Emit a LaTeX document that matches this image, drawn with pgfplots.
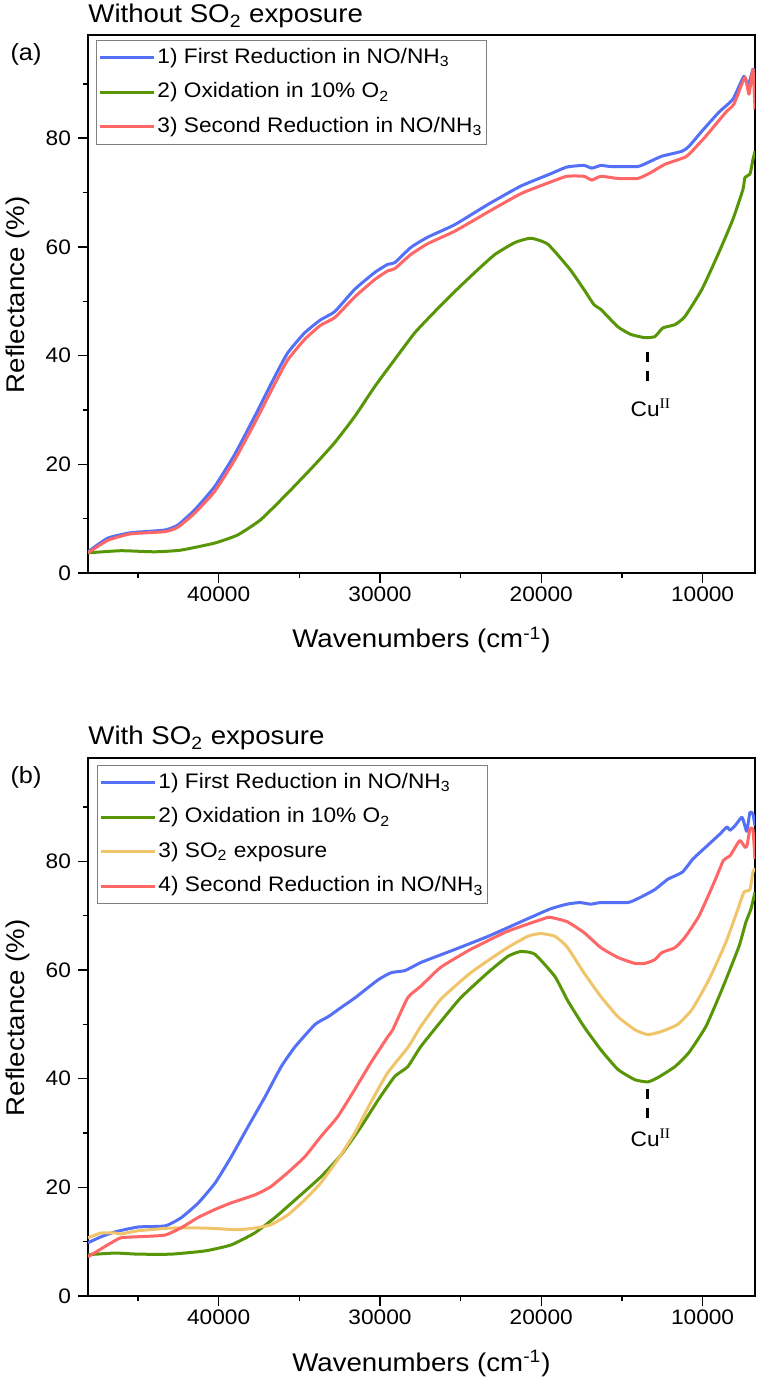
\documentclass[border=0pt]{standalone}
\usepackage{fontspec}
\setmainfont{Liberation Sans}[FakeStretch=1.08]
\newfontfamily\seriffont{Liberation Serif}[FakeStretch=1.08]
\usepackage{pgfplots}
\pgfplotsset{compat=1.18}
\definecolor{cblue}{RGB}{84,112,246}
\definecolor{cgreen}{RGB}{88,150,8}
\definecolor{cred}{RGB}{255,102,102}
\definecolor{cyellow}{RGB}{240,196,106}
\pgfplotsset{
  panel/.style={
    scale only axis, width=333.5pt, height=269pt,
    x dir=reverse, xmin=6750, xmax=48100, ymin=0, ymax=99,
    xtick={10000,20000,30000,40000}, minor xtick={15000,25000,35000,45000},
    ytick={0,20,40,60,80}, minor ytick={10,30,50,70,90},
    scaled x ticks=false,
    /pgf/number format/1000 sep={},
    /pgf/number format/assume math mode=true,
    xticklabel style={inner sep=1.5pt},
    tick pos=left, tick align=outside,
    major tick length=5pt, minor tick length=2.5pt,
    every tick/.append style={black, line width=0.75pt},
    axis line style={line width=0.75pt},
    ticklabel style={font=\fontsize{10.5}{12}\selectfont},
    label style={font=\fontsize{12.8}{15}\selectfont},
    xlabel={Wavenumbers (cm\textsuperscript{-1})},
    ylabel={Reflectance (\%)},
    xlabel style={at={(axis description cs:0.5,-0.1394)}, anchor=base},
    ylabel style={at={(axis description cs:-0.0945,0.517)}, anchor=base},
    legend cell align=left,
    legend image code/.code={\draw[#1] (0pt,0pt) -- (27pt,0pt);},
    legend style={anchor=north west, draw=gray, line width=0.5pt,
      font=\fontsize{10.5}{12}\selectfont, inner xsep=1pt, inner ysep=2pt,
      row sep=3.75pt, nodes={inner sep=1pt, text height=8.5pt, text depth=3pt}},
    every axis plot/.append style={line width=1.5pt, line join=round, no markers, smooth, tension=0.3},
  }
}
\begin{document}
\begin{tikzpicture}
\path[use as bounding box] (0pt,0pt) rectangle (380pt,690.5pt);
% ---------- panel (a)
\node[anchor=base west, inner sep=0, font=\fontsize{12.8}{15}\selectfont] at (44pt,679pt) {Without SO\textsubscript{2} exposure};
\node[inner sep=0, font=\fontsize{11.7}{14}\selectfont] at (13pt,663.5pt) {(a)};
\begin{axis}[panel, at={(44pt,404pt)}, anchor=south west, legend style={at={(0.012,0.991)}}]
\addplot[cblue] coordinates {
(48100,3.9) (46885,6.4) (45459,7.4) (43350,7.9) (42543,8.8) (41489,11.6) (40248,15.9)
(39007,21.8) (37767,28.8) (36526,36.1) (35720,40.5) (34665,44.2) (33673,46.6) (32804,48.1)
(31564,52.2) (30323,55.3) (29517,56.8) (29083,57.1) (28090,59.9) (27036,61.8) (25361,64.1)
(23314,67.8) (21267,71.2) (19468,73.4) (18414,74.7) (17360,75.0) (16864,74.5) (16305,75.0)
(15685,74.8) (14010,74.8) (13204,75.8) (12522,76.7) (11281,77.6) (10847,78.5) (10041,81.3)
(8985,84.8) (8116,87.2) (7434,91.4) (7186,89.6) (6876,92.7) (6750,92.3)};
\addlegendentry{1) First Reduction in NO/NH\textsubscript{3}}
\addplot[cgreen] coordinates {
(48100,3.7) (46078,4.1) (43970,3.9) (42357,4.2) (40248,5.5) (38821,7.0) (37394,9.8)
(35720,14.7) (34045,19.9) (32804,24.0) (31564,28.8) (30323,34.3) (29083,39.3) (27842,44.2)
(26601,48.1) (25361,51.8) (24120,55.3) (22880,58.6) (21639,60.8) (20647,61.6) (19592,60.5)
(18228,55.9) (17360,52.2) (16740,49.4) (16305,48.5) (15251,45.3) (14444,43.9) (13576,43.3)
(12956,43.5) (12460,45.1) (11715,45.7) (11095,47.2) (10041,52.2) (8985,59.0) (8116,65.1)
(7496,70.6) (7372,72.8) (7062,73.4) (6876,76.1) (6750,77.6)};
\addlegendentry{2) Oxidation in 10\% O\textsubscript{2}}
\addplot[cred] coordinates {
(48100,3.7) (46885,6.0) (45459,7.2) (43350,7.6) (42543,8.4) (41489,11.0) (40248,15.0)
(39007,20.8) (37767,27.6) (36526,34.8) (35720,39.2) (34665,43.0) (33673,45.6) (32804,47.0)
(31564,50.8) (30323,54.0) (29517,55.6) (29083,56.0) (28090,58.6) (27036,60.6) (25361,62.9)
(23314,66.4) (21267,69.8) (19468,71.9) (18414,73.0) (17360,73.0) (16864,72.3) (16305,73.0)
(15251,72.6) (14010,72.6) (13204,73.7) (12336,75.2) (11095,76.5) (10661,77.6) (9793,80.4)
(8552,84.8) (8054,86.3) (7372,91.2) (7124,88.1) (6876,92.7) (6750,85.3)};
\addlegendentry{3) Second Reduction in NO/NH\textsubscript{3}}
\draw[black, line width=1.5pt, dash pattern=on 5pt off 4.5pt] (axis cs:13400,40.6) -- (axis cs:13400,35.2);
\node[anchor=base, inner sep=0, font=\fontsize{10.5}{12}\selectfont] at (axis cs:13200,28.8) {Cu\textsuperscript{\seriffont II}};
\end{axis}
% ---------- panel (b)
\node[anchor=base west, inner sep=0, font=\fontsize{12.8}{15}\selectfont] at (44pt,318pt) {With SO\textsubscript{2} exposure};
\node[inner sep=0, font=\fontsize{11.7}{14}\selectfont] at (13pt,302pt) {(b)};
\begin{axis}[panel, at={(44pt,42.5pt)}, anchor=south west, legend style={at={(0.0135,0.987)}}]
\addplot[cblue] coordinates {
(48100,9.8) (47290,10.9) (46420,11.8) (44993,12.7) (43318,12.9) (42326,14.4) (41271,17.1)
(40217,20.8) (39224,25.6) (38170,31.2) (37115,36.7) (36123,42.2) (35254,45.9) (34014,50.0)
(33208,51.4) (32401,53.1) (31533,54.9) (30106,58.2) (29300,59.5) (28431,59.9) (27439,61.4)
(25330,63.8) (23283,66.2) (21236,68.9) (19468,71.2) (18414,72.1) (17608,72.4) (16926,72.1)
(16305,72.4) (14630,72.4) (13824,73.4) (12956,74.8) (12150,76.7) (11250,78.0) (10602,80.4)
(9733,82.8) (8927,85.0) (8493,86.3) (8307,85.7) (7997,86.5) (7563,88.1) (7376,86.5)
(7252,85.5) (7066,89.0) (6880,88.7) (6750,86.5)};
\addlegendentry{1) First Reduction in NO/NH\textsubscript{3}}
\addplot[cgreen] coordinates {
(48100,7.6) (46420,7.9) (44993,7.7) (42947,7.7) (40837,8.3) (39224,9.4) (37767,11.6)
(36526,14.4) (35254,17.7) (33673,21.9) (32401,26.0) (31161,31.2) (30106,36.1) (29083,40.4)
(28276,42.2) (27470,45.9) (26229,50.5) (24988,54.9) (23314,59.5) (22073,62.5) (21267,63.4)
(20399,62.9) (19158,58.8) (18352,54.3) (17360,49.6) (16305,45.3) (15251,41.7) (14196,39.8)
(13390,39.4) (12770,40.2) (11715,42.2) (10847,44.8) (9793,49.6) (8800,56.4) (7748,64.3)
(7314,68.8) (7004,71.2) (6750,74.3)};
\addlegendentry{2) Oxidation in 10\% O\textsubscript{2}}
\addplot[cyellow] coordinates {
(48100,10.7) (47290,11.6) (46420,11.6) (46078,11.4) (45024,12.0) (42977,12.5) (40868,12.5)
(38821,12.2) (37767,12.5) (36775,13.1) (35720,14.9) (34665,17.7) (33673,20.8) (32618,25.1)
(31564,30.0) (30571,35.6) (29517,41.1) (28276,45.7) (27470,49.6) (26229,54.6) (24368,59.5)
(22259,63.8) (20833,66.2) (20027,66.7) (19158,66.2) (18414,64.3) (17360,59.5) (16305,55.1)
(15251,51.4) (14196,49.0) (13390,48.1) (12522,48.7) (11529,50.0) (10661,52.7) (9606,58.2)
(8552,65.1) (7810,71.2) (7438,74.3) (7066,74.8) (6880,78.0) (6750,78.7)};
\addlegendentry{3) SO\textsubscript{2} exposure}
\addplot[cred] coordinates {
(48100,7.2) (46885,9.4) (46078,10.7) (45024,10.9) (43350,11.2) (42357,12.5) (41303,14.4)
(40248,15.9) (39256,17.1) (37767,18.6) (36775,20.1) (35720,22.7) (34665,25.6) (33673,29.3)
(32618,33.0) (31564,38.0) (30571,42.9) (29517,47.7) (29207,49.0) (28276,54.9) (27470,57.0)
(26229,60.5) (24368,63.8) (22259,66.9) (21267,68.0) (19778,69.5) (19468,69.7) (18414,68.9)
(17360,66.9) (16305,64.1) (15251,62.3) (14196,61.2) (13576,61.2) (12956,61.9) (12522,63.2)
(11715,64.1) (11095,66.0) (10227,69.9) (9300,76.0) (8700,80.2) (8300,81.0) (7700,83.8)
(7376,82.6) (7250,82.8) (7066,85.9) (6880,85.9) (6750,80.4)};
\addlegendentry{4) Second Reduction in NO/NH\textsubscript{3}}
\draw[black, line width=1.5pt, dash pattern=on 5pt off 4.5pt] (axis cs:13400,38.0) -- (axis cs:13400,32.8);
\node[anchor=base, inner sep=0, font=\fontsize{10.5}{12}\selectfont] at (axis cs:13200,27.5) {Cu\textsuperscript{\seriffont II}};
\end{axis}
\end{tikzpicture}
\end{document}
